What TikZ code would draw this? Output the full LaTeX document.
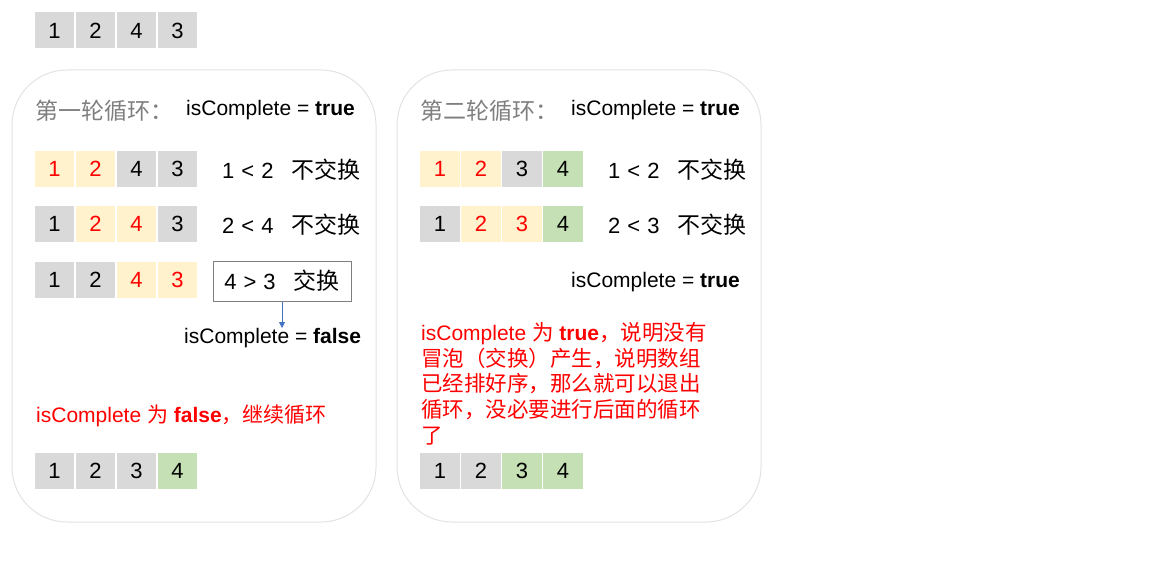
\documentclass[tikz,border=0pt]{standalone}
\usepackage{fontspec}
\setmainfont{Liberation Sans}
\newfontfamily\cjk{Noto Sans CJK SC}
\usepackage{xcolor}
\usetikzlibrary{arrows.meta}

\definecolor{cellgray}{HTML}{D9D9D9}
\definecolor{cellorange}{HTML}{FFF2CC}
\definecolor{cellgreen}{HTML}{C5E0B4}
\definecolor{headgray}{HTML}{7F7F7F}
\definecolor{boxgray}{HTML}{7F7F7F}
\definecolor{panelline}{HTML}{E2E2E2}
\definecolor{arrowblue}{HTML}{4472C4}

\newcommand{\bodysize}{\fontsize{21}{25.8}\selectfont}
\newcommand{\headsize}{\fontsize{23}{26}\selectfont}
% comparison text: a < b, then the Chinese verdict
\newcommand{\cmpline}[4]{{\fontsize{22}{26}\selectfont #1\hspace{7pt}#2\hspace{7pt}#3\hspace{18pt}{\headsize\cjk #4}}}

\begin{document}
\begin{tikzpicture}[
    x=1pt, y=-1pt,
    every node/.style={inner sep=0pt, font=\bodysize},
    cell/.style={draw=white, line width=1.5pt, minimum width=41pt,
                 minimum height=37.5pt, font=\fontsize{22}{26}\selectfont},
    gcell/.style={cell, fill=cellgray},
    ocell/.style={cell, fill=cellorange, text=red},
    ncell/.style={cell, fill=cellgreen},
    panel/.style={draw=panelline, line width=1pt, rounded corners=55pt},
    head/.style={anchor=west, text=headgray, font=\headsize\cjk},
    swapbox/.style={draw=boxgray, line width=1pt, minimum width=138pt, minimum height=40pt},
    note/.style={text=red, align=left, font=\fontsize{21}{25.8}\selectfont},
]
\useasboundingbox (0,0) rectangle (1161,588);

% starting array
\foreach \v/\s [count=\i] in {1/gcell,2/gcell,4/gcell,3/gcell}
    \node[\s] (top\i) at (13.5+41*\i,30.5) {\v};

% =====================================================================
% first pass
% =====================================================================
\draw[panel] (12,70) rectangle (376,522);
\node[head] (headA) at (35,111) {第一轮循环：};
\node[anchor=west] (flagA) at (186,110) {isComplete = \textbf{true}};

\foreach \v/\s [count=\i] in {1/ocell,2/ocell,4/gcell,3/gcell}
    \node[\s] (a\i) at (13.5+41*\i,169) {\v};
\node[anchor=west] (cmpA1) at (222,170) {\cmpline{1}{<}{2}{不交换}};

\foreach \v/\s [count=\i] in {1/gcell,2/ocell,4/ocell,3/gcell}
    \node[\s] (b\i) at (13.5+41*\i,224) {\v};
\node[anchor=west] (cmpA2) at (222,225) {\cmpline{2}{<}{4}{不交换}};

\foreach \v/\s [count=\i] in {1/gcell,2/gcell,4/ocell,3/ocell}
    \node[\s] (c\i) at (13.5+41*\i,280) {\v};
\node[swapbox] (swap) at (282,281) {\cmpline{4}{>}{3}{交换}};

\node[anchor=west] (flagB) at (184,338) {isComplete = \textbf{false}};
\draw[arrowblue, line width=1pt, -{Triangle[length=6pt,width=6pt]}]
    (swap.south) -- (swap.south |- flagB.north);

\node[note, anchor=west] (noteA) at (36,416) {isComplete {\cjk 为} \textbf{false}{\cjk ，继续循环}};

\foreach \v/\s [count=\i] in {1/gcell,2/gcell,3/gcell,4/ncell}
    \node[\s] (d\i) at (13.5+41*\i,471) {\v};

% =====================================================================
% second pass
% =====================================================================
\draw[panel] (397,70) rectangle (761,522);
\node[head] (headB) at (420,111) {第二轮循环：};
\node[anchor=west] (flagC) at (571,110) {isComplete = \textbf{true}};

\foreach \v/\s [count=\i] in {1/ocell,2/ocell,3/gcell,4/ncell}
    \node[\s] (e\i) at (399+41*\i,169) {\v};
\node[anchor=west] (cmpB1) at (608,170) {\cmpline{1}{<}{2}{不交换}};

\foreach \v/\s [count=\i] in {1/gcell,2/ocell,3/ocell,4/ncell}
    \node[\s] (f\i) at (399+41*\i,224) {\v};
\node[anchor=west] (cmpB2) at (608,225) {\cmpline{2}{<}{3}{不交换}};

\node[anchor=west] (flagD) at (571,282) {isComplete = \textbf{true}};

% CJK lines a little larger than the Latin words
\node[note, anchor=north west] (noteB) at (421,322)
    {isComplete {\fontsize{21.5}{25.8}\selectfont\cjk 为} \textbf{true}{\fontsize{21.5}{25.8}\selectfont\cjk ，说明没有}\\
     {\fontsize{21.5}{25.8}\selectfont\cjk 冒泡（交换）产生，说明数组}\\
     {\fontsize{21.5}{25.8}\selectfont\cjk 已经排好序，那么就可以退出}\\
     {\fontsize{21.5}{25.8}\selectfont\cjk 循环，没必要进行后面的循环}\\
     {\fontsize{21.5}{25.8}\selectfont\cjk 了}};

\foreach \v/\s [count=\i] in {1/gcell,2/gcell,3/ncell,4/ncell}
    \node[\s] (g\i) at (399+41*\i,471) {\v};

\end{tikzpicture}
\end{document}
